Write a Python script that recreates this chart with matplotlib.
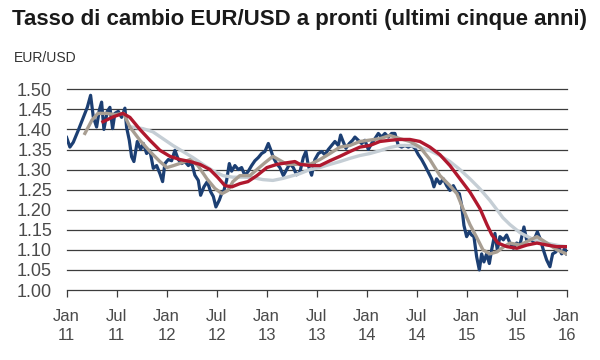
import matplotlib
matplotlib.use("Agg")
import matplotlib.pyplot as plt

# ---- data (decimal year, EUR/USD) ----
spot_t = [2011.000, 2011.033, 2011.067, 2011.117, 2011.150, 2011.183, 2011.207, 2011.240, 2011.267, 2011.300,
          2011.327, 2011.350, 2011.373, 2011.407, 2011.433, 2011.460, 2011.483, 2011.517, 2011.550, 2011.583,
          2011.600, 2011.627, 2011.650, 2011.673, 2011.707, 2011.740, 2011.767, 2011.800, 2011.833, 2011.867,
          2011.900, 2011.933, 2011.960, 2011.983, 2012.017, 2012.050, 2012.083, 2012.117, 2012.150, 2012.183,
          2012.217, 2012.250, 2012.283, 2012.317, 2012.340, 2012.373, 2012.407, 2012.440, 2012.467, 2012.493,
          2012.527, 2012.550, 2012.573, 2012.600, 2012.627, 2012.650, 2012.683, 2012.717, 2012.750, 2012.783,
          2012.817, 2012.850, 2012.883, 2012.917, 2012.950, 2012.983, 2013.017, 2013.040, 2013.067, 2013.100,
          2013.133, 2013.167, 2013.200, 2013.233, 2013.267, 2013.300, 2013.333, 2013.367, 2013.393, 2013.417,
          2013.450, 2013.483, 2013.517, 2013.550, 2013.583, 2013.617, 2013.650, 2013.683, 2013.717, 2013.740,
          2013.760, 2013.793, 2013.827, 2013.860, 2013.883, 2013.917, 2013.950, 2013.983, 2014.017, 2014.050,
          2014.083, 2014.117, 2014.150, 2014.183, 2014.217, 2014.250, 2014.283, 2014.317, 2014.350, 2014.383,
          2014.417, 2014.450, 2014.483, 2014.517, 2014.550, 2014.583, 2014.617, 2014.650, 2014.673, 2014.700,
          2014.733, 2014.767, 2014.800, 2014.833, 2014.867, 2014.900, 2014.927, 2014.950, 2014.973, 2015.000,
          2015.027, 2015.050, 2015.073, 2015.100, 2015.127, 2015.150, 2015.173, 2015.200, 2015.227, 2015.250,
          2015.283, 2015.307, 2015.333, 2015.367, 2015.400, 2015.433, 2015.467, 2015.500, 2015.533, 2015.573,
          2015.600, 2015.633, 2015.667, 2015.707, 2015.733, 2015.767, 2015.800, 2015.833, 2015.860, 2015.893,
          2015.917, 2015.950, 2015.983, 2016.000]
spot_v = [1.380, 1.356, 1.368, 1.398, 1.419, 1.440, 1.455, 1.485, 1.431, 1.406,
          1.448, 1.468, 1.400, 1.445, 1.455, 1.402, 1.440, 1.445, 1.430, 1.453,
          1.405, 1.373, 1.332, 1.320, 1.370, 1.350, 1.365, 1.340, 1.348, 1.303,
          1.310, 1.290, 1.270, 1.315, 1.325, 1.322, 1.348, 1.325, 1.315, 1.320,
          1.310, 1.317, 1.286, 1.273, 1.236, 1.257, 1.270, 1.245, 1.233, 1.207,
          1.224, 1.240, 1.248, 1.273, 1.315, 1.296, 1.310, 1.300, 1.305, 1.285,
          1.296, 1.310, 1.322, 1.330, 1.340, 1.345, 1.365, 1.350, 1.330, 1.315,
          1.305, 1.285, 1.300, 1.315, 1.305, 1.287, 1.294, 1.330, 1.345, 1.310,
          1.286, 1.325, 1.340, 1.345, 1.337, 1.350, 1.360, 1.370, 1.360, 1.386,
          1.373, 1.353, 1.365, 1.373, 1.381, 1.373, 1.365, 1.373, 1.350, 1.365,
          1.377, 1.390, 1.381, 1.390, 1.381, 1.390, 1.390, 1.360, 1.356, 1.360,
          1.356, 1.360, 1.353, 1.337, 1.325, 1.310, 1.293, 1.277, 1.257, 1.277,
          1.265, 1.277, 1.260, 1.248, 1.260, 1.244, 1.240, 1.211, 1.161, 1.133,
          1.145, 1.137, 1.133, 1.083, 1.050, 1.090, 1.070, 1.090, 1.066, 1.100,
          1.141, 1.100, 1.133, 1.125, 1.137, 1.117, 1.104, 1.117, 1.112, 1.157,
          1.125, 1.129, 1.120, 1.145, 1.129, 1.100, 1.075, 1.058, 1.090, 1.095,
          1.108, 1.090, 1.104, 1.090]

ma_short_t = [2011.183, 2011.253, 2011.313, 2011.400, 2011.483, 2011.570, 2011.633, 2011.733, 2011.833, 2011.933,
              2012.003, 2012.070, 2012.153, 2012.233, 2012.313, 2012.403, 2012.483, 2012.553, 2012.613, 2012.663,
              2012.733, 2012.833, 2012.903, 2012.983, 2013.063, 2013.203, 2013.333, 2013.433, 2013.533, 2013.633,
              2013.733, 2013.833, 2013.933, 2014.133, 2014.233, 2014.333, 2014.433, 2014.533, 2014.633, 2014.733,
              2014.833, 2014.903, 2014.963, 2015.033, 2015.103, 2015.163, 2015.233, 2015.303, 2015.373, 2015.433,
              2015.533, 2015.703, 2015.803, 2015.903, 2016.000]
ma_short_v = [1.390, 1.423, 1.440, 1.440, 1.437, 1.440, 1.406, 1.373, 1.345, 1.320,
              1.305, 1.310, 1.317, 1.325, 1.310, 1.277, 1.253, 1.240, 1.248, 1.270,
              1.285, 1.285, 1.300, 1.317, 1.333, 1.313, 1.313, 1.313, 1.325, 1.340,
              1.356, 1.360, 1.370, 1.377, 1.385, 1.377, 1.370, 1.356, 1.325, 1.285,
              1.260, 1.240, 1.203, 1.163, 1.130, 1.100, 1.090, 1.095, 1.108, 1.117,
              1.112, 1.133, 1.117, 1.100, 1.090]

ma_mid_t = [2011.363, 2011.463, 2011.563, 2011.633, 2011.733, 2011.833, 2011.933, 2012.033, 2012.133, 2012.233,
            2012.333, 2012.433, 2012.513, 2012.583, 2012.653, 2012.733, 2012.813, 2012.903, 2013.003, 2013.103,
            2013.203, 2013.283, 2013.333, 2013.433, 2013.533, 2013.633, 2013.733, 2013.833, 2013.933, 2014.033,
            2014.133, 2014.233, 2014.333, 2014.433, 2014.533, 2014.633, 2014.733, 2014.833, 2014.933, 2015.033,
            2015.133, 2015.203, 2015.253, 2015.313, 2015.403, 2015.503, 2015.603, 2015.703, 2015.803, 2015.903,
            2016.000]
ma_mid_v = [1.419, 1.431, 1.440, 1.430, 1.400, 1.373, 1.348, 1.333, 1.325, 1.320,
            1.313, 1.300, 1.280, 1.260, 1.257, 1.265, 1.270, 1.285, 1.305, 1.313,
            1.317, 1.320, 1.313, 1.310, 1.310, 1.322, 1.333, 1.345, 1.356, 1.360,
            1.370, 1.373, 1.375, 1.375, 1.370, 1.356, 1.337, 1.310, 1.277, 1.244,
            1.203, 1.163, 1.137, 1.117, 1.108, 1.104, 1.112, 1.117, 1.112, 1.108,
            1.108]

ma_long_t = [2011.653, 2011.763, 2011.863, 2011.963, 2012.063, 2012.163, 2012.263, 2012.363, 2012.463, 2012.563,
             2012.663, 2012.763, 2012.863, 2012.963, 2013.063, 2013.163, 2013.263, 2013.333, 2013.433, 2013.533,
             2013.633, 2013.733, 2013.833, 2013.933, 2014.033, 2014.133, 2014.233, 2014.333, 2014.433, 2014.533,
             2014.633, 2014.733, 2014.833, 2014.933, 2015.033, 2015.133, 2015.233, 2015.303, 2015.363, 2015.433,
             2015.533, 2015.633, 2015.733, 2015.833, 2015.933, 2016.000]
ma_long_v = [1.406, 1.402, 1.394, 1.377, 1.360, 1.345, 1.330, 1.313, 1.297, 1.285,
             1.281, 1.281, 1.280, 1.275, 1.273, 1.278, 1.285, 1.290, 1.300, 1.305,
             1.313, 1.320, 1.328, 1.335, 1.340, 1.347, 1.355, 1.360, 1.360, 1.355,
             1.347, 1.335, 1.320, 1.300, 1.277, 1.252, 1.223, 1.200, 1.180, 1.163,
             1.143, 1.130, 1.120, 1.115, 1.110, 1.108]

x_ticks = [2011.0, 2011.5, 2012.0, 2012.5, 2013.0, 2013.5, 2014.0, 2014.5, 2015.0, 2015.5, 2016.0]
x_labels = ["Jan\n11", "Jul\n11", "Jan\n12", "Jul\n12", "Jan\n13", "Jul\n13",
            "Jan\n14", "Jul\n14", "Jan\n15", "Jul\n15", "Jan\n16"]
y_ticks = [1.00, 1.05, 1.10, 1.15, 1.20, 1.25, 1.30, 1.35, 1.40, 1.45, 1.50]

title = "Tasso di cambio EUR/USD a pronti (ultimi cinque anni)"
unit = "EUR/USD"

# ---- figure ----
plt.rcParams['font.family'] = ['Liberation Sans', 'DejaVu Sans']
fig = plt.figure(figsize=(6, 3.6), dpi=100)
ax = fig.add_axes([0.111, 0.1944, 0.8334, 0.5576])

for y in y_ticks[1:]:
    ax.axhline(y, color='#3c3c3c', lw=0.9, zorder=1, clip_on=False)

ax.plot(spot_t, spot_v, color='#1c3f73', lw=2.3, zorder=3, solid_joinstyle='round')
ax.plot(ma_long_t, ma_long_v, color='#c5ced5', lw=2.4, zorder=4)
ax.plot(ma_short_t, ma_short_v, color='#a89e92', lw=2.4, zorder=5)
ax.plot(ma_mid_t, ma_mid_v, color='#b0182e', lw=2.4, zorder=6)

ax.set_xlim(2011.0, 2016.0)
ax.set_ylim(1.00, 1.50)
for s in ['top', 'right', 'left']:
    ax.spines[s].set_visible(False)
ax.spines['bottom'].set_color('#3c3c3c')
ax.spines['bottom'].set_linewidth(0.9)

ax.set_xticks(x_ticks)
ax.set_xticklabels(x_labels, linespacing=1.3)
ax.set_yticks(y_ticks)
ax.set_yticklabels([f"{v:.2f}" for v in y_ticks])
ax.tick_params(axis='x', direction='out', length=5, width=0.9, color='#3c3c3c',
               labelsize=12, labelcolor='#4a4a4a', pad=9)
ax.tick_params(axis='y', length=0, labelsize=13, labelcolor='#4a4a4a', pad=10.5)

fig.text(0.02, 0.945, title, fontsize=16, fontweight='bold', color='#1a1a1a', va='center', ha='left')
fig.text(0.023, 0.838, unit, fontsize=10, color='#333333', va='center', ha='left')

fig.savefig("out.png", dpi=100, facecolor='white')
